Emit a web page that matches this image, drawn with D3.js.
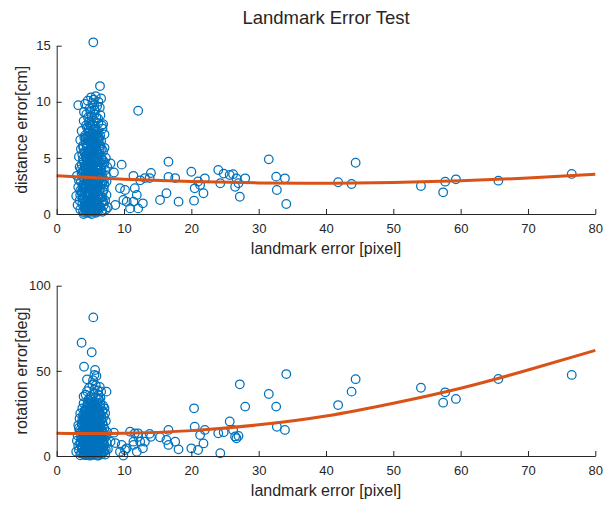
<!DOCTYPE html>
<html>
<head>
<meta charset="utf-8">
<script src="https://cdn.jsdelivr.net/npm/d3@7"></script>
<style>
  body { margin: 0; background: #fff; }
  svg { display: block; }
  text { font-family: "Liberation Sans", Arial, Helvetica, sans-serif; fill: #262626; }
</style>
</head>
<body>
<svg id="chart" width="606" height="506"></svg>
<script>
// Test samples near the origin: landmark error [pixel], distance error [cm], rotation error [deg]
const clusterLandmark = [
  2.9, 3.0, 3.1, 3.2, 3.2, 3.3, 3.4, 3.4, 3.5, 3.5, 3.6, 3.6,
  3.7, 3.7, 3.8, 3.8, 3.9, 3.9, 4.0, 4.0, 4.06, 4.1, 4.1, 4.2, 4.2, 4.2, 3.8, 3.9, 4.0, 4.1,
  4.3, 4.3, 4.3, 4.4, 4.4, 4.4, 4.5, 4.5, 4.5, 4.6, 4.6, 4.6, 4.7, 4.7, 4.7,
  4.8, 4.8, 4.8, 4.9, 4.9, 4.9, 4.4, 4.5, 4.6, 4.7, 4.8, 4.9, 4.3, 4.5, 4.7,
  5.0, 5.0, 5.0, 5.1, 5.1, 5.1, 5.2, 5.2, 5.2, 5.3, 5.3, 5.3, 5.4, 5.44, 5.4, 5.4, 5.5, 5.5,
  5.5, 5.6, 5.6, 5.6, 5.0, 5.1, 5.2, 5.3, 5.4, 5.5, 5.6, 5.0, 5.2, 5.4, 5.5, 5.3, 5.1, 5.6,
  5.7, 5.7, 5.7, 5.8, 5.8, 5.8, 5.9, 5.9, 5.9, 6.0, 6.0, 6.0, 6.1, 6.1, 6.1,
  6.2, 6.2, 6.2, 6.3, 6.3, 5.8, 5.9, 6.0, 6.1, 6.2, 6.3, 5.7, 6.0, 6.2, 5.8,
  6.43, 6.4, 6.4, 6.5, 6.5, 6.5, 6.6, 6.6, 6.6, 6.7, 6.7, 6.8,
  6.8, 6.8, 6.9, 6.9, 7.0, 7.0, 6.4, 6.5, 6.6, 6.7, 6.9, 6.7,
  7.1, 7.1, 7.2, 7.2, 7.3, 7.3, 7.4, 7.4, 7.5, 7.6, 7.1, 7.3,
  3.85, 4.15, 4.35, 4.55, 4.75, 4.95, 5.15, 5.35, 5.55, 5.75, 5.95, 6.15,
  4.05, 4.25, 4.45, 4.65, 4.85, 5.05, 5.25, 5.45, 5.65, 5.85, 6.05, 6.25,
  3.95, 4.15, 4.35, 4.55, 4.75, 4.95, 5.15, 5.35, 5.55, 5.75, 5.95, 6.15,
  4.2, 4.4, 4.6, 4.8, 5.0, 5.2, 5.4, 5.6, 5.8, 6.0, 6.2, 6.4,
  3.6, 3.75, 3.9, 4.1, 4.3, 4.5, 4.7, 4.9, 5.1, 5.3, 5.5, 5.7,
  5.9, 6.1, 6.3, 6.5, 6.7, 6.9, 7.1, 3.3, 3.5, 3.7, 6.6, 6.8,
  4.35, 4.65, 4.95, 5.25, 5.55, 5.85, 6.15, 6.45, 4.05, 5.0, 5.6, 6.1,
  4.0, 4.3, 4.6, 4.9, 5.2, 5.5, 5.8, 6.1, 6.4, 6.7, 3.5, 7.0,
  4.1, 4.3, 4.5, 4.7, 4.9, 5.1, 5.3, 5.5, 5.7, 5.9, 6.1, 6.3,
  3.7, 3.9, 4.2, 4.4, 4.6, 4.8, 5.0, 5.2, 5.4, 5.6, 5.8, 6.0,
  6.2, 6.4, 6.6, 6.8, 7.0, 4.0, 4.2, 4.5, 4.8, 5.1, 5.4, 5.7,
  4.45, 4.75, 5.05, 5.35, 5.65, 5.95, 6.25, 6.55, 3.8, 4.1, 6.85, 5.25,
  4.55, 4.85, 5.15, 5.45, 5.75, 6.05, 6.35, 4.25, 5.0, 5.5, 6.0, 4.7
];
const clusterDistance = [
  1.6, 3.4, 0.8, 9.7, 2.4, 5.1, 1.2, 4.2, 6.6, 0.4, 2.9, 5.8,
  1.9, 7.4, 3.8, 0.9, 6.1, 2.6, 8.3, 4.7, 1.4, 5.5, 3.1, 0.5, 7.0, 9.8, 5.3, 0.2, 2.2, 6.8,
  1.0, 3.6, 6.3, 8.9, 2.0, 4.9, 0.3, 7.7, 3.0, 5.6, 1.6, 10.1, 4.1, 6.9, 2.6,
  0.7, 8.2, 5.2, 3.4, 9.4, 1.3, 0.4, 5.9, 3.9, 0.9, 2.3, 6.6, 4.4, 2.4, 7.3,
  0.1, 4.6, 7.9, 2.1, 10.4, 5.7, 3.3, 8.7, 1.1, 6.2, 4.0, 9.9, 2.7, 15.3, 0.6, 7.5, 5.0, 1.8,
  10.2, 3.7, 6.9, 0.3, 2.9, 6.7, 0.6, 1.5, 4.4, 8.3, 2.4, 9.1, 5.4, 3.2, 6.0, 8.0, 3.8, 9.3,
  1.2, 4.8, 7.8, 2.8, 10.5, 5.9, 0.5, 3.9, 8.6, 6.4, 2.0, 9.6, 4.3, 0.9, 7.2,
  3.0, 5.3, 10.0, 1.6, 6.8, 0.2, 5.5, 4.6, 2.5, 8.1, 3.6, 9.2, 0.4, 1.3, 7.0,
  11.4, 2.2, 5.8, 0.6, 4.0, 8.8, 2.9, 6.5, 10.3, 1.1, 4.9, 7.6,
  3.3, 0.2, 5.6, 2.0, 4.4, 0.8, 9.5, 6.1, 1.5, 3.7, 8.0, 7.9,
  2.6, 5.9, 1.2, 3.9, 0.4, 5.0, 2.9, 1.7, 4.2, 0.6, 7.1, 3.4,
  1.4, 4.3, 0.7, 2.8, 5.4, 1.9, 3.6, 6.3, 0.9, 4.1, 2.2, 5.0,
  3.2, 0.1, 6.0, 1.7, 4.5, 7.1, 2.5, 0.3, 5.2, 3.5, 1.0, 6.6,
  5.9, 2.3, 3.9, 0.6, 7.6, 4.8, 1.2, 3.0, 6.8, 0.7, 4.9, 2.7,
  0.8, 5.1, 2.9, 3.8, 1.6, 4.2, 5.8, 2.0, 3.1, 5.4, 0.5, 4.7,
  4.0, 2.0, 3.3, 1.1, 5.2, 6.9, 0.2, 1.8, 4.5, 2.3, 7.0, 6.1,
  1.9, 3.3, 6.0, 2.6, 5.8, 1.1, 4.6, 3.0, 1.7, 4.4, 4.2, 2.7,
  7.9, 8.6, 8.1, 7.2, 9.7, 7.4, 8.5, 7.0, 9.1, 6.4, 8.9, 6.9,
  0.0, 0.4, 0.1, 0.3, 0.0, 0.5, 0.1, 0.2, 1.4, 0.3, 2.1, 2.2,
  2.5, 6.7, 1.3, 4.6, 0.5, 3.0, 5.1, 1.5, 6.4, 2.4, 4.0, 0.8,
  3.6, 4.9, 4.0, 3.1, 6.5, 2.6, 5.6, 6.6, 4.9, 0.9, 6.2, 3.6,
  3.9, 3.2, 5.0, 1.5, 3.0, 3.9, 1.9, 4.3, 5.7, 7.8, 7.0, 7.6,
  2.0, 3.1, 1.0, 4.4, 2.6, 5.7, 2.1, 3.7, 2.4, 0.6, 4.8, 0.4,
  5.3, 6.8, 2.2, 5.6, 1.7, 6.9, 5.3, 3.4, 4.1, 3.9, 2.9, 1.9
];
const clusterRotation = [
  2.5, 9.0, 12.0, 6.0, 18.0, 3.5, 22.0, 15.0, 8.0, 25.0, 11.0, 1.5,
  66.5, 19.0, 5.0, 28.0, 13.0, 24.0, 2.0, 31.0, 52.4, 16.5, 7.0, 21.0, 10.5, 26.5, 14.0, 9.5, 35.0, 3.0,
  12.5, 4.0, 22.5, 17.0, 29.0, 0.8, 38.0, 8.5, 14.5, 26.0, 6.0, 19.5, 11.0, 33.0, 2.2,
  23.5, 15.5, 40.0, 9.8, 4.8, 27.5, 19.0, 45.0, 31.5, 16.0, 7.5, 20.5, 36.0, 1.2, 13.5,
  10.0, 24.5, 3.2, 17.5, 30.0, 12.0, 60.9, 6.8, 21.5, 42.0, 0.5, 15.0, 28.5, 81.4, 8.2, 18.5, 36.5, 4.2,
  25.5, 11.5, 47.6, 22.0, 33.5, 1.8, 14.0, 26.0, 9.0, 19.8, 39.0, 7.2, 29.0, 44.5, 2.8, 16.8, 5.5, 13.0,
  50.5, 16.2, 6.0, 24.8, 10.8, 34.5, 47.0, 3.6, 20.0, 12.8, 31.0, 0.7, 23.0, 8.8, 38.5,
  15.8, 27.0, 5.2, 19.2, 11.2, 41.5, 28.0, 17.5, 2.4, 22.5, 33.0, 14.5, 9.5, 36.0, 4.4,
  13.8, 25.5, 7.6, 17.0, 30.5, 1.4, 21.0, 10.0, 37.8, 5.0, 15.0, 26.8,
  9.0, 19.5, 3.0, 29.5, 12.0, 23.0, 40.5, 34.0, 12.4, 2.0, 18.0, 8.0,
  16.0, 6.5, 25.1, 0.9, 11.5, 20.5, 37.8, 8.0, 14.0, 4.0, 28.0, 3.5,
  7.3, 15.8, 24.2, 3.1, 19.4, 11.7, 27.6, 5.9, 17.2, 22.8, 9.1, 13.4,
  21.6, 10.4, 1.9, 14.7, 8.3, 25.0, 12.9, 20.1, 4.6, 16.4, 28.3, 0.4,
  13.2, 26.7, 6.4, 18.1, 11.3, 0.2, 22.4, 16.9, 7.8, 30.2, 2.6, 20.7,
  17.8, 5.3, 29.6, 21.2, 6.6, 18.8, 10.7, 24.6, 12.2, 2.1, 15.4, 8.7,
  14.2, 3.9, 20.3, 8.1, 26.3, 16.6, 4.3, 14.8, 0.9, 9.3, 23.3, 17.9,
  18.7, 6.1, 25.9, 10.6, 21.7, 13.9, 2.7, 16.5, 6.9, 10.2, 23.6, 4.8,
  12.7, 19.1, 30.8, 27.3, 21.9, 11.9, 33.7, 29.1, 23.1, 34.7, 32.1, 25.3,
  1.1, 2.9, 0.6, 3.8, 2.0, 1.6, 4.9, 0.2, 3.3, 1.0, 0.4, 6.2,
  9.7, 19.9, 27.1, 12.3, 23.7, 4.1, 16.2, 30.9, 1.3, 7.7, 19.6, 24.1,
  5.6, 17.4, 2.3, 11.9, 6.2, 26.6, 20.4, 2.4, 14.3, 28.9, 8.9, 12.4,
  4.1, 19.0, 14.6, 26.1, 9.2, 22.3, 0.5, 22.0, 4.4, 15.6, 24.0, 26.9,
  8.0, 15.1, 27.9, 7.0, 13.6, 19.2, 10.1, 5.7, 21.2, 17.1, 11.4, 31.7,
  3.4, 9.6, 18.3, 22.6, 26.4, 16.1, 6.7, 12.1, 27.0, 11.1, 22.7, 20.9
];

// Test samples with larger landmark error
const spreadLandmark = [
  8.5, 8.0, 8.7, 9.4, 9.65, 9.9, 10.15, 10.4, 10.9, 11.4,
  11.6, 11.9, 11.4, 12.1, 12.4, 12.8, 12.1, 13.1, 14.0, 13.8,
  16.6, 16.6, 17.6, 16.3, 15.35, 18.1, 20.0, 20.4, 20.5, 21.3,
  21.8, 22.0, 21.0, 24.0, 24.3, 24.8, 25.7, 26.2, 26.7, 26.5,
  27.0, 27.2, 28.0, 31.5, 32.6, 32.7, 33.9, 34.1, 41.8, 43.8,
  44.4, 54.1, 57.7, 57.4, 59.3, 65.6, 76.5
];
const spreadDistance = [
  3.7, 4.5, 0.8, 2.3, 4.4, 1.25, 2.14, 1.1, 0.5, 3.4,
  2.3, 1.7, 1.1, 9.2, 3.0, 0.95, 0.5, 3.2, 3.65, 3.2,
  4.66, 3.3, 3.2, 1.85, 1.25, 1.1, 3.77, 1.19, 2.29, 2.58,
  1.85, 3.18, 2.9, 3.92, 2.74, 3.6, 3.48, 3.55, 3.18, 2.43,
  2.74, 1.54, 3.18, 4.87, 3.33, 2.14, 3.18, 0.89, 2.83, 2.67,
  4.57, 2.5, 2.88, 1.93, 3.09, 2.97, 3.57
];
const spreadRotation = [
  13.7, 8.4, 7.6, 2.5, 6.5, 0.3, 3.5, 4.5, 14.3, 6.5,
  13.3, 2.5, 8.4, 11.3, 8.4, 4.5, 13.3, 8.4, 11.3, 13.0,
  15.3, 6.5, 8.4, 9.4, 11.0, 3.9, 4.5, 28.0, 17.2, 12.3,
  7.4, 15.3, 3.5, 13.3, 1.6, 14.0, 20.3, 15.3, 10.4, 11.5,
  11.8, 42.1, 29.0, 36.4, 29.0, 17.2, 15.3, 48.1, 29.9, 37.8,
  45.1, 40.1, 37.4, 31.3, 33.5, 45.2, 47.6
];

// Quadratic trend lines sampled along the landmark-error axis
const fitLandmark = [0, 10, 20, 30, 40, 50, 60, 70, 80];
const fitDistance = [3.40, 3.10, 2.89, 2.77, 2.74, 2.80, 2.96, 3.20, 3.54];
const fitRotation = [13.4, 13.3, 14.9, 18.3, 23.5, 31.0, 39.8, 50.5, 62.0];

const xTicks = [0, 10, 20, 30, 40, 50, 60, 70, 80];
const distanceTicks = [0, 5, 10, 15];
const rotationTicks = [0, 50, 100];

const title = "Landmark Error Test";
const xLabel = "landmark error [pixel]";

const landmark = clusterLandmark.concat(spreadLandmark);
const distance = clusterDistance.concat(spreadDistance);
const rotation = clusterRotation.concat(spreadRotation);

const BLUE = "#0072BD", ORANGE = "#D95319", INK = "#262626";
const svg = d3.select("#chart");

const x = d3.scaleLinear().domain([0, 80]).range([56.7, 595.3]);

svg.append("text")
  .attr("x", 326).attr("y", 24)
  .attr("text-anchor", "middle")
  .style("font-size", "18.5px")
  .text(title);

function panel(values, fit, yDomain, yRange, ticks, yLabel) {
  const y = d3.scaleLinear().domain(yDomain).range(yRange);
  const g = svg.append("g");

  // scatter
  g.append("g").selectAll("circle")
    .data(landmark.map((lx, i) => [lx, values[i]]))
    .join("circle")
    .attr("cx", d => x(d[0]))
    .attr("cy", d => y(d[1]))
    .attr("r", 4.3)
    .attr("fill", "none")
    .attr("stroke", BLUE)
    .attr("stroke-width", 1.25);

  // trend line
  const line = d3.line()
    .x(d => x(d[0]))
    .y(d => y(d[1]))
    .curve(d3.curveNatural);
  g.append("path")
    .datum(fitLandmark.map((fx, i) => [fx, fit[i]]))
    .attr("d", line)
    .attr("fill", "none")
    .attr("stroke", ORANGE)
    .attr("stroke-width", 3);

  // axes
  const xAxis = g.append("g")
    .attr("transform", `translate(0,${yRange[0]})`)
    .call(d3.axisBottom(x).tickValues(xTicks).tickSizeInner(-5).tickSizeOuter(0).tickPadding(10));
  const yAxis = g.append("g")
    .attr("transform", `translate(${x.range()[0]},0)`)
    .call(d3.axisLeft(y).tickValues(ticks).tickSizeInner(-5).tickSizeOuter(0).tickPadding(6));
  [xAxis, yAxis].forEach(a => {
    a.selectAll("path, line").attr("stroke", INK);
    a.selectAll("text").attr("fill", INK)
      .style("font-size", "13px")
      .style("font-family", '"Liberation Sans", Arial, sans-serif');
  });

  g.append("text")
    .attr("x", 326).attr("y", yRange[0] + 40)
    .attr("text-anchor", "middle")
    .style("font-size", "16px")
    .text(xLabel);

  g.append("text")
    .attr("transform", `translate(27,${(yRange[0] + yRange[1]) / 2}) rotate(-90)`)
    .attr("text-anchor", "middle")
    .style("font-size", "16px")
    .text(yLabel);
}

panel(distance, fitDistance, [0, 15], [214, 45.7], distanceTicks, "distance error[cm]");
panel(rotation, fitRotation, [0, 100], [456, 285.7], rotationTicks, "rotation error[deg]");
</script>
</body>
</html>
